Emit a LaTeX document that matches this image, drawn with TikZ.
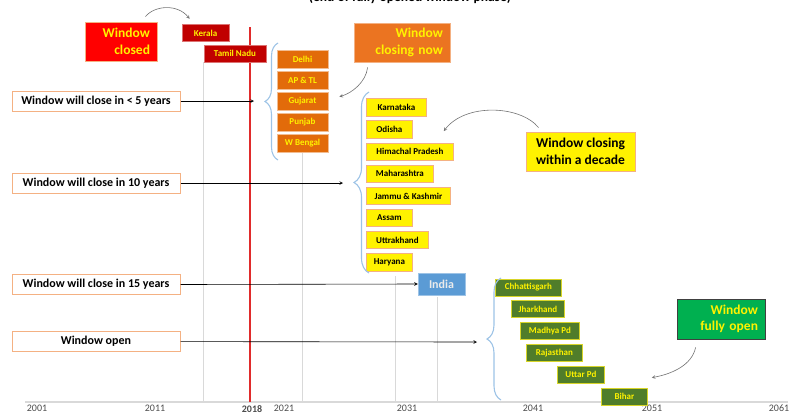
\documentclass[tikz,border=0pt]{standalone}
\usepackage{fontspec}
\setmainfont{Carlito}
\usetikzlibrary{arrows,positioning,calc,decorations.pathreplacing}

\definecolor{darkred}{HTML}{C00000}
\definecolor{stateorange}{HTML}{E26B0A}
\definecolor{nowrange}{HTML}{EB7421}
\definecolor{peach}{HTML}{F4B183}
\definecolor{olive}{HTML}{507D2A}
\definecolor{opengreen}{HTML}{00B050}
\definecolor{indiablue}{HTML}{5B9BD5}
\definecolor{bracecol}{HTML}{9DC3E6}
\definecolor{gridgrey}{HTML}{D9D9D9}
\definecolor{nowred}{HTML}{E02B2B}

\tikzset
{
    statebox/.style    = {rectangle, font=\bfseries\fontsize{9}{10}\selectfont, minimum height=17.5pt, inner sep=1pt, line width=0.8pt},
    redstate/.style    = {statebox, fill=darkred, draw=darkred!55!white, text=yellow},
    orangestate/.style = {statebox, fill=stateorange, draw=stateorange!45!white, text=yellow, minimum width=51pt, minimum height=18pt},
    yellowstate/.style = {statebox, fill=yellow, draw=peach, text=black},
    greenstate/.style  = {statebox, fill=olive, draw=yellow!75!olive, text=yellow, minimum height=17pt},
    phase/.style       = {rectangle, font=\bfseries\fontsize{13.5}{16.5}\selectfont, minimum height=39pt, inner xsep=7pt, align=right, line width=0.8pt},
    period/.style      = {rectangle, draw=peach, line width=1pt, fill=white, font=\bfseries\fontsize{12}{14}\selectfont, minimum width=168pt, minimum height=20pt},
    arrow/.style       = {->, >=stealth, black, line width=0.6pt},
    curvearrow/.style  = {->, >=stealth, black!55, line width=0.6pt},
    groupbrace/.style  = {decorate, decoration={brace, amplitude=#1}, bracecol, line width=1.1pt},
    gridline/.style    = {gridgrey, line width=0.7pt},
    yearlabel/.style   = {anchor=north, inner sep=1pt, text=black!70, font=\fontsize{10}{12}\selectfont}
}

\begin{document}
\begin{tikzpicture}[x=1pt, y=-1pt]
	\useasboundingbox (0,0) rectangle (792,418);

	% heading, cut by the top edge
	\node (title) [anchor=base, font=\bfseries\fontsize{13.5}{16}\selectfont] at (410,1.5) {(end of fully opened window phase)};

	% time axis and years
	\coordinate (ax0) at (25,402);
	\coordinate (ax1) at (788,402);
	\draw [gridline, line width=1.6pt] (ax0) -- (ax1);
	\foreach \x/\yr in {37/2001, 155/2011, 284/2021, 407/2031, 533/2041, 652/2051, 779/2061}
		\node (y\yr) [yearlabel] at (\x,404) {\yr};
	\node (y2018) [yearlabel, font=\bfseries\fontsize{10}{12}\selectfont] at (252,404) {2018};

	% today
	\coordinate (now0) at (250,27);
	\draw [nowred, line width=1.6pt] (now0) -- (now0 |- ax0);

	% window closed
	\node (wclosed) [phase, fill=red, draw=peach, text=yellow, minimum width=72pt, text width=58pt] at (121,41.5) {Window\\closed};
	\node (ker) [redstate, minimum width=47pt] at (205.5,33) {Kerala};
	\node (tn) [redstate, minimum width=62pt, minimum height=17pt] at (235,53.5) {Tamil Nadu};

	% window closing now
	\node (wnow) [phase, fill=nowrange, draw=peach, text=yellow, minimum width=96pt, text width=82pt] at (402,42.5) {Window\\closing now};
	\node (del) [orangestate] at (302.5,59) {Delhi};
	\node (ap) [orangestate, below=2.3pt of del] {AP \& TL};
	\node (guj) [orangestate, below=2.3pt of ap] {Gujarat};
	\node (pun) [orangestate, below=2.3pt of guj] {Punjab};
	\node (wb) [orangestate, below=2.3pt of pun] {W Bengal};

	% window closing within a decade
	\node (wdecade) [phase, fill=yellow, draw=peach, text=black, minimum width=109pt, align=center] at (580.5,151.5) {Window closing\\within a decade};
	\node (kar) [yellowstate, anchor=west, minimum width=60pt] at (366,107.5) {Karnataka};
	\node (odi) [yellowstate, minimum width=46pt, below right=3.8pt and 0pt of kar.south west] {Odisha};
	\node (him) [yellowstate, minimum width=87pt, below right=3.8pt and 0pt of odi.south west] {Himachal Pradesh};
	\node (mah) [yellowstate, minimum width=67pt, below right=3.8pt and 0pt of him.south west] {Maharashtra};
	\node (jk) [yellowstate, minimum width=84pt, below right=3.8pt and 0pt of mah.south west] {Jammu \& Kashmir};
	\node (ass) [yellowstate, minimum width=46pt, below right=3.8pt and 0pt of jk.south west] {Assam};
	\node (utk) [yellowstate, minimum width=62pt, below right=3.8pt and 0pt of ass.south west] {Uttrakhand};
	\node (har) [yellowstate, minimum width=46pt, below right=3.8pt and 0pt of utk.south west] {Haryana};

	\node (india) [rectangle, fill=indiablue, draw=indiablue!60!white, text=white!92!black, font=\bfseries\fontsize{12}{14}\selectfont, minimum width=47pt, minimum height=22pt] at (441.5,284) {India};

	% window fully open
	\node (wopen) [phase, fill=opengreen, draw=black!75, text=yellow, minimum width=88pt, minimum height=40pt, text width=74pt] at (721,319) {Window\\fully open};
	\node (chh) [greenstate, anchor=west, minimum width=66pt] at (495,287.5) {Chhattisgarh};
	\node (jha) [greenstate, minimum width=53pt, below right=4pt and 16pt of chh.south west] {Jharkhand};
	\node (mp) [greenstate, minimum width=59pt, below right=4pt and 9pt of jha.south west] {Madhya Pd};
	\node (raj) [greenstate, minimum width=56pt, below right=4pt and 6pt of mp.south west] {Rajasthan};
	\node (up) [greenstate, minimum width=47pt, below right=4pt and 31pt of raj.south west] {Uttar Pd};
	\node (bih) [greenstate, minimum width=46pt, below right=4pt and 44pt of up.south west] {Bihar};

	% periods
	\node (p5) [period] at (96,101) {Window will close in < 5 years};
	\node (p10) [period] at (96,183) {Window will close in 10 years};
	\node (p15) [period] at (96,284.5) {Window will close in 15 years};
	\node (popen) [period] at (96,341.5) {Window open};

	% drop lines to the axis
	\draw [gridline] (tn.south west) -- (tn.south west |- ax0);
	\draw [gridline] (wb.south) -- (wb.south |- ax0);
	\draw [gridline] ([xshift=6pt,yshift=-5pt]har.south) -- ([xshift=6pt]har.south |- ax0);
	\draw [gridline] ([xshift=-4.5pt,yshift=-2pt]india.south) -- ([xshift=-4.5pt]india.south |- ax0);

	% braces
	\draw [groupbrace=13pt] (278,160) -- (278,43);
	\draw [groupbrace=15pt] (369,273) -- (369,92);
	\draw [groupbrace=14pt] (501,400) -- (501,278);

	\coordinate (t5) at (254,101);
	\coordinate (t10) at (343,183);
	\coordinate (topen) at (477,342);

	\draw [arrow] (p5) -- (t5);
	\draw [arrow] (p10) -- (t10);
	\draw [arrow] (p15.east) -- (india.west);
	\draw [arrow] (popen) -- (topen);

	% pointers from the phase labels
	\draw [curvearrow] ([xshift=-12pt,yshift=5pt]wclosed.north east) .. controls (155,5) and (178,4) .. ([xshift=8pt,yshift=5pt]ker.north west);
	\draw [curvearrow] ([xshift=14pt,yshift=-5pt]wnow.south west) .. controls (366,82) and (352,93) .. ([xshift=11pt,yshift=4.5pt]guj.east);
	\draw [curvearrow] ([xshift=13pt,yshift=4pt]wdecade.north west) .. controls (520,105) and (465,103) .. ([xshift=31pt,yshift=-1.5pt]odi.east);
	\draw [curvearrow] ([xshift=19pt,yshift=-8pt]wopen.south west) .. controls (692,365) and (672,374) .. ([xshift=4pt,yshift=10pt]bih.north east);

\end{tikzpicture}
\end{document}
